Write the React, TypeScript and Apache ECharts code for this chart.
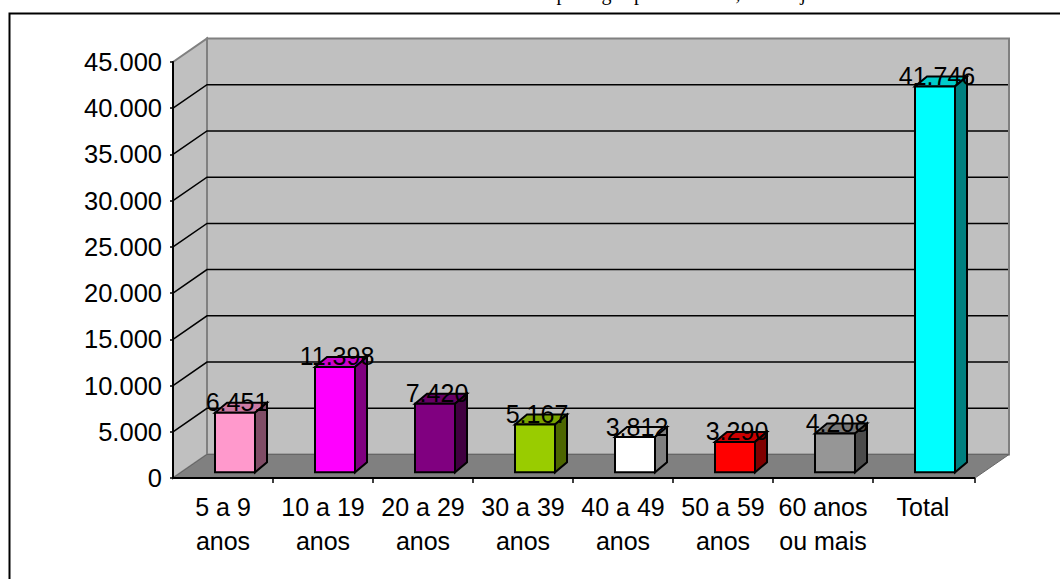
import React, { useEffect, useRef } from "react";
import * as echarts from "echarts";

const categories = ["5 a 9\nanos", "10 a 19\nanos", "20 a 29\nanos", "30 a 39\nanos", "40 a 49\nanos", "50 a 59\nanos", "60 anos\nou mais", "Total"];
const values = [6451, 11398, 7420, 5167, 3812, 3290, 4208, 41746];
const frontColors = ["#FF99CC", "#FF00FF", "#800080", "#99CC00", "#FFFFFF", "#FF0000", "#969696", "#00FFFF"];
const topColors = ["#CC7AA3", "#CC00CC", "#660066", "#7AA300", "#CCCCCC", "#CC0000", "#787878", "#00CCCC"];
const sideColors = ["#804D66", "#800080", "#400040", "#4D6600", "#808080", "#800000", "#4B4B4B", "#008080"];
const gridTicks = [0, 5000, 10000, 15000, 20000, 25000, 30000, 35000, 40000, 45000];
const croppedGlyphs = [["p", 561.5], ["g", 606.5], ["p", 639], [",", 738], ["j", 803]] as [string, number][];

const WALL_DX = 34;
const WALL_DY = -23.5;
const RIGHT_EXTRA = 2;
const BAR_DX = 12;
const BAR_BASE_DY = -5.7;
const BAR_W = 40;
const DEPTH_DX = 12;
const DEPTH_DY = -10;
const FONT = "Liberation Sans, Arial, sans-serif";
const fmt = (v: number) => String(v).replace(/\B(?=(\d{3})+$)/g, ".");

export default function App() {
  const ref = useRef<HTMLDivElement>(null);
  useEffect(() => {
    document.body.style.margin = "0";
    const chart = echarts.init(ref.current!, undefined, { renderer: "svg" });
    chart.setOption({
      animation: false,
      backgroundColor: "#fff",
      grid: { left: 173, right: 87, top: 62, bottom: 101, containLabel: false },
      xAxis: {
        type: "category",
        data: categories,
        boundaryGap: true,
        axisLine: { show: false },
        axisTick: { show: false },
        axisLabel: { color: "#000", fontFamily: FONT, fontSize: 25, lineHeight: 34, margin: 12, interval: 0 },
      },
      yAxis: {
        type: "value",
        min: 0,
        max: 45000,
        interval: 5000,
        splitLine: { show: false },
        axisLine: { show: true, lineStyle: { color: "#000", width: 2 } },
        axisTick: { show: true, length: 3, lineStyle: { color: "#000", width: 1.5 } },
        axisLabel: { color: "#000", fontFamily: FONT, fontSize: 25.5, margin: 11, padding: [3, 0, 0, 0], formatter: (v: number) => fmt(v) },
        z: 5,
      },
      graphic: {
        elements: [
          {
            type: "polyline",
            silent: true,
            z: 100,
            shape: { points: [[9.5, 579], [9.5, 13.5], [1060, 13.5]] },
            style: { stroke: "#000", lineWidth: 2, fill: "none" },
          },
          ...croppedGlyphs.map(([g, x]) => ({
            type: "text",
            silent: true,
            x,
            y: 2.5,
            style: { text: g, fill: "#000", font: "20px 'Liberation Serif', serif", textAlign: "center", textVerticalAlign: "bottom" },
          })),
        ],
      },
      series: [
        {
          type: "custom",
          coordinateSystem: "cartesian2d",
          clip: false,
          z: 1,
          data: gridTicks.map((t) => [0, t]),
          encode: { x: 0, y: 1 },
          renderItem: (params: any, api: any) => {
            const tick = api.value(1);
            const [, y] = api.coord([0, tick]);
            const cs = params.coordSys;
            const left = cs.x;
            const right = cs.x + cs.width + RIGHT_EXTRA;
            const bottom = cs.y + cs.height;
            const top = cs.y;
            const children: any[] = [];
            if (params.dataIndex === 0) {
              const gray = { stroke: "#808080", lineWidth: 2 };
              children.push(
                { type: "polygon", shape: { points: [[left, bottom], [left, top], [left + WALL_DX, top + WALL_DY], [left + WALL_DX, bottom + WALL_DY]] }, style: { fill: "#C0C0C0", ...gray } },
                { type: "polygon", shape: { points: [[left + WALL_DX, top + WALL_DY], [right + WALL_DX, top + WALL_DY], [right + WALL_DX, bottom + WALL_DY], [left + WALL_DX, bottom + WALL_DY]] }, style: { fill: "#C0C0C0", ...gray } },
                { type: "polygon", shape: { points: [[left, bottom], [left + WALL_DX, bottom + WALL_DY], [right + WALL_DX, bottom + WALL_DY], [right, bottom]] }, style: { fill: "#808080", stroke: "#666666", lineWidth: 1 } },
                { type: "line", shape: { x1: left, y1: bottom, x2: right, y2: bottom }, style: { stroke: "#000", lineWidth: 2 } },
              );
              categories.forEach((_, i) => {
                const [cx] = api.coord([i, 0]);
                const tx = cx + cs.width / categories.length / 2;
                const txEnd = i === categories.length - 1 ? right : tx;
                children.push({ type: "line", shape: { x1: txEnd, y1: bottom, x2: txEnd, y2: bottom + 5 }, style: { stroke: "#000", lineWidth: 1.5 } });
              });
            } else if (tick < 45000) {
              children.push({
                type: "polyline",
                shape: { points: [[left, y], [left + WALL_DX, y + WALL_DY], [right + WALL_DX - 1, y + WALL_DY]] },
                style: { stroke: "#000", lineWidth: 1.5, fill: "none" },
              });
            }
            return { type: "group", children };
          },
        },
        {
          type: "custom",
          coordinateSystem: "cartesian2d",
          clip: false,
          z: 2,
          data: values.map((v, i) => [i, v]),
          encode: { x: 0, y: 1 },
          renderItem: (params: any, api: any) => {
            const i = api.value(0);
            const v = api.value(1);
            const [cx, yTopRaw] = api.coord([i, v]);
            const [, yBaseRaw] = api.coord([i, 0]);
            const xl = cx + BAR_DX - BAR_W / 2;
            const xr = xl + BAR_W;
            const yt = yTopRaw + BAR_BASE_DY;
            const yb = yBaseRaw + BAR_BASE_DY;
            const line = { stroke: "#000", lineWidth: 2, lineJoin: "miter" };
            return {
              type: "group",
              children: [
                { type: "polygon", shape: { points: [[xl, yt], [xl + DEPTH_DX, yt + DEPTH_DY], [xr + DEPTH_DX, yt + DEPTH_DY], [xr, yt]] }, style: { fill: topColors[i], ...line } },
                { type: "polygon", shape: { points: [[xr, yt], [xr + DEPTH_DX, yt + DEPTH_DY], [xr + DEPTH_DX, yb + DEPTH_DY], [xr, yb]] }, style: { fill: sideColors[i], ...line } },
                { type: "polygon", shape: { points: [[xl, yt], [xr, yt], [xr, yb], [xl, yb]] }, style: { fill: frontColors[i], ...line } },
              ],
            };
          },
        },
        {
          type: "custom",
          coordinateSystem: "cartesian2d",
          clip: false,
          z: 3,
          data: values.map((v, i) => [i, v]),
          encode: { x: 0, y: 1 },
          renderItem: (params: any, api: any) => {
            const i = api.value(0);
            const v = api.value(1);
            const [cx, y] = api.coord([i, v]);
            return {
              type: "text",
              x: cx + BAR_DX + 2,
              y: y + BAR_BASE_DY + 2,
              style: { text: fmt(v), fill: "#000", font: `25px ${FONT}`, textAlign: "center", textVerticalAlign: "bottom" },
            };
          },
        },
      ],
    });
    return () => chart.dispose();
  }, []);
  return <div ref={ref} style={{ position: "absolute", left: 0, top: 0, width: 1060, height: 579 }} />;
}
